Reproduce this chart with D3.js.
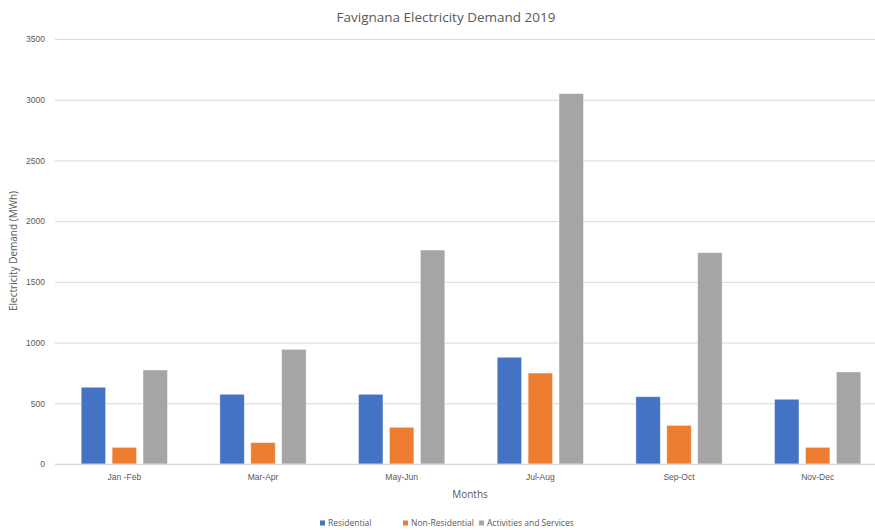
<!DOCTYPE html>
<html>
<head>
<meta charset="utf-8">
<script src="https://cdn.jsdelivr.net/npm/d3@7"></script>
<style>
  html, body { margin: 0; padding: 0; background: #fff; }
  svg { display: block; font-family: "Open Sans", "Noto Sans", sans-serif; }
</style>
</head>
<body>
<svg id="chart" width="875" height="530"></svg>
<script>
// Bi-monthly electricity demand on Favignana, 2019 (MWh)
const periods = ["Jan -Feb", "Mar-Apr", "May-Jun", "Jul-Aug", "Sep-Oct", "Nov-Dec"];
const seriesNames = ["Residential", "Non-Residential", "Activities and Services"];
const residential = [632, 574, 574, 879, 554, 533];
const nonResidential = [137, 176, 302, 749, 318, 137];
const activities = [774, 944, 1762, 3050, 1740, 758];
const yTicks = [0, 500, 1000, 1500, 2000, 2500, 3000, 3500];
const colors = ["#4472C4", "#ED7D31", "#A5A5A5"];

const seriesValues = [residential, nonResidential, activities];

const svg = d3.select("#chart");
const textColor = "#595959";

const x0 = d3.scaleBand().domain(periods).range([55, 887])
  .paddingInner(0.378).paddingOuter(0.189);
const x1 = d3.scaleBand().domain(seriesNames).range([0, x0.bandwidth()])
  .paddingInner(0.21);
const y = d3.scaleLinear().domain([0, 3500]).range([464, 39]);

// Horizontal gridlines with value labels
const yAxis = d3.axisLeft(y).tickValues(yTicks).tickFormat(d3.format("d"))
  .tickSize(-(887 - 55)).tickPadding(10);
const gy = svg.append("g").attr("transform", "translate(55,0)").call(yAxis);
gy.select(".domain").remove();
gy.selectAll(".tick line").attr("stroke", "#d9d9d9").attr("stroke-width", 1);
gy.selectAll(".tick text").attr("fill", textColor).attr("font-size", 8.5);

// Bars, grouped by period
const groups = svg.append("g").selectAll("g")
  .data(periods)
  .join("g")
  .attr("transform", d => `translate(${x0(d)},0)`);

groups.selectAll("rect")
  .data((p, i) => seriesNames.map((s, k) => ({ s, k, v: seriesValues[k][i] })))
  .join("rect")
  .attr("x", d => x1(d.s))
  .attr("y", d => y(d.v))
  .attr("width", x1.bandwidth())
  .attr("height", d => y(0) - y(d.v))
  .attr("fill", d => colors[d.k])
  .attr("stroke", "#ffffff")
  .attr("stroke-opacity", 0.5)
  .attr("stroke-width", 0.8);

// Category axis along the baseline
const xAxis = d3.axisBottom(x0).tickSize(0).tickPadding(10);
const gx = svg.append("g").attr("transform", `translate(0,${y(0)})`).call(xAxis);
gx.select(".domain").attr("stroke", "#d9d9d9").attr("stroke-width", 1.5);
gx.selectAll(".tick text").attr("fill", textColor).attr("font-size", 8.5);

// Titles
svg.append("text")
  .attr("x", 446).attr("y", 22)
  .attr("text-anchor", "middle")
  .attr("fill", textColor)
  .attr("font-size", 13.5)
  .text("Favignana Electricity Demand 2019");

svg.append("text")
  .attr("x", 470).attr("y", 498)
  .attr("text-anchor", "middle")
  .attr("fill", textColor)
  .attr("font-size", 10)
  .text("Months");

svg.append("text")
  .attr("transform", "translate(17,251) rotate(-90)")
  .attr("text-anchor", "middle")
  .attr("fill", textColor)
  .attr("font-size", 10)
  .text("Electricity Demand (MWh)");

// Legend
const legendX = [320, 403, 479];
const legend = svg.append("g").selectAll("g")
  .data(seriesNames)
  .join("g")
  .attr("transform", (d, i) => `translate(${legendX[i]},526)`);
legend.append("rect")
  .attr("x", 0).attr("y", -5.5).attr("width", 5).attr("height", 5)
  .attr("fill", (d, i) => colors[i]);
legend.append("text")
  .attr("x", 8).attr("y", 0)
  .attr("fill", textColor)
  .attr("font-size", 8.5)
  .text(d => d);
</script>
</body>
</html>
